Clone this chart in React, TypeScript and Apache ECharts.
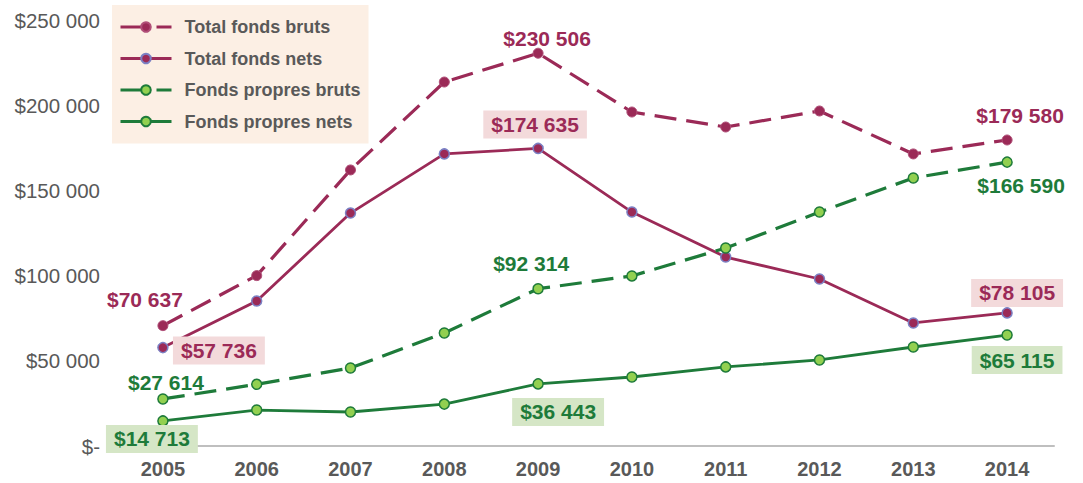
import React, { useEffect, useRef } from "react";
import * as echarts from "echarts";

const categories = ["2005", "2006", "2007", "2008", "2009", "2010", "2011", "2012", "2013", "2014"];
const totalBruts = [70637, 100000, 162000, 213600, 230506, 196000, 187200, 196600, 171400, 179580];
const totalNets = [57736, 85100, 136700, 171400, 174635, 137300, 110900, 98000, 72200, 78105];
const propresBruts = [27614, 36200, 45800, 66300, 92314, 99800, 116200, 137300, 157300, 166590];
const propresNets = [14713, 21100, 19950, 24600, 36443, 40500, 46400, 50500, 58100, 65115];
const seriesNames = ["Total fonds bruts", "Total fonds nets", "Fonds propres bruts", "Fonds propres nets"];
const labeledIdx = [0, 4, 9];

const MAROON = "#9b2a57";
const GREEN = "#1e7b3a";
const LIGHTGREEN = "#92d050";
const PINKBOX = "#f3dadb";
const GREENBOX = "#d5e6c6";

const fmt = (v: number) => "$" + String(Math.round(v)).replace(/\B(?=(\d{3})+(?!\d))/g, " ");

// label offsets per series per labeled index [dx, dy]
const labelOffsets: Record<string, [number, number][]> = {
  "Total fonds bruts": [[-18, -26], [9, -15], [13, -24]],
  "Total fonds nets": [[56, 3], [-3, -24], [10, -20]],
  "Fonds propres bruts": [[3, -16], [-7, -25], [14, 23]],
  "Fonds propres nets": [[-11, 18], [20, 28], [10, 25]],
};

function buildData(name: string, values: number[], color: string, box: string | null) {
  return values.map((v, i) => {
    const k = labeledIdx.indexOf(i);
    if (k < 0) return v;
    const off = labelOffsets[name][k];
    return {
      value: v,
      label: {
        show: true,
        position: "inside",
        offset: off,
        formatter: fmt(v),
        color,
        fontFamily: "Liberation Sans",
        fontWeight: "bold",
        fontSize: 21,
        backgroundColor: box || "transparent",
        padding: box ? [4, 8, 3, 8] : 0,
      },
    };
  });
}

const legendDash = [22, 14];

export default function App() {
  const ref = useRef<HTMLDivElement>(null);
  useEffect(() => {
    if (!ref.current) return;
    const chart = echarts.init(ref.current, null, { renderer: "svg" });
    chart.setOption({
      animation: false,
      textStyle: { fontFamily: "Liberation Sans" },
      grid: { left: 116, right: 29, top: 20, bottom: 37, containLabel: false },
      legend: {
        orient: "vertical",
        left: 112,
        top: 5,
        backgroundColor: "#fcefe4",
        padding: [12, 8, 12, 7],
        itemWidth: 51,
        itemHeight: 12,
        itemGap: 11.5,
        data: [
          { name: seriesNames[0], lineStyle: { width: 3, type: legendDash } },
          { name: seriesNames[1], lineStyle: { width: 3, type: "solid" } },
          { name: seriesNames[2], lineStyle: { width: 3, type: legendDash } },
          { name: seriesNames[3], lineStyle: { width: 3, type: "solid" } },
        ],
        lineStyle: { width: 3 },
        textStyle: {
          fontFamily: "Liberation Sans",
          fontWeight: "bold",
          fontSize: 18,
          color: "#595959",
          lineHeight: 20,
          padding: [0, 0, 0, 8],
        },
      },
      xAxis: {
        type: "category",
        data: categories,
        boundaryGap: true,
        axisLine: { lineStyle: { color: "#bfbfbf", width: 2 } },
        axisTick: { show: false },
        axisLabel: {
          color: "#595959",
          fontWeight: "bold",
          fontSize: 20,
          margin: 13,
          fontFamily: "Liberation Sans",
        },
      },
      yAxis: {
        type: "value",
        min: 0,
        max: 250000,
        interval: 50000,
        axisLine: { show: false },
        axisTick: { show: false },
        splitLine: { show: false },
        axisLabel: {
          color: "#595959",
          fontSize: 20.5,
          margin: 16,
          fontFamily: "Liberation Sans",
          formatter: (v: number) => (v === 0 ? "$-" : fmt(v)),
        },
      },
      series: [
        {
          name: seriesNames[0],
          type: "line",
          data: buildData(seriesNames[0], totalBruts, MAROON, null),
          symbol: "circle",
          symbolSize: 10,
          lineStyle: { color: MAROON, width: 3.2, type: [22, 10] },
          itemStyle: { color: MAROON, borderColor: "#b04f78", borderWidth: 1 },
          z: 3,
        },
        {
          name: seriesNames[1],
          type: "line",
          data: buildData(seriesNames[1], totalNets, MAROON, PINKBOX),
          symbol: "circle",
          symbolSize: 10,
          lineStyle: { color: MAROON, width: 2.8, type: "solid" },
          itemStyle: { color: MAROON, borderColor: "#7b80c4", borderWidth: 1.5 },
          z: 3,
        },
        {
          name: seriesNames[2],
          type: "line",
          data: buildData(seriesNames[2], propresBruts, GREEN, null),
          symbol: "circle",
          symbolSize: 10,
          lineStyle: { color: GREEN, width: 3.2, type: [22, 10] },
          itemStyle: { color: LIGHTGREEN, borderColor: GREEN, borderWidth: 1.5 },
          z: 3,
        },
        {
          name: seriesNames[3],
          type: "line",
          data: buildData(seriesNames[3], propresNets, GREEN, GREENBOX),
          symbol: "circle",
          symbolSize: 10,
          lineStyle: { color: GREEN, width: 2.8, type: "solid" },
          itemStyle: { color: LIGHTGREEN, borderColor: GREEN, borderWidth: 1.5 },
          z: 3,
        },
      ],
    });
    return () => chart.dispose();
  }, []);
  return (
    <div
      ref={ref}
      style={{ position: "fixed", left: 0, top: 0, width: 1083, height: 483, background: "#ffffff" }}
    />
  );
}
